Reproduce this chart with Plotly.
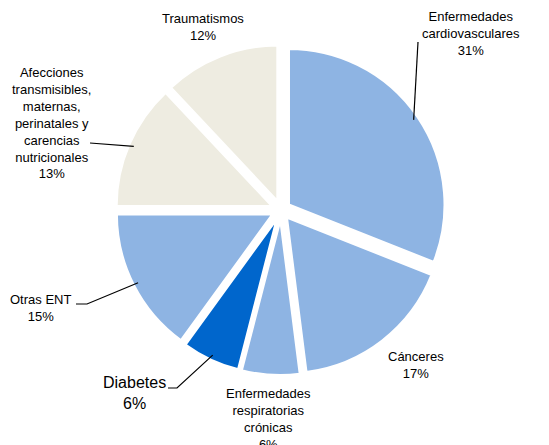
import math
import plotly.graph_objects as go

# ---- data ----
categories = [
    "Enfermedades cardiovasculares",
    "Cánceres",
    "Enfermedades respiratorias crónicas",
    "Diabetes",
    "Otras ENT",
    "Afecciones transmisibles, maternas, perinatales y carencias nutricionales",
    "Traumatismos",
]
values = [31, 17, 6, 6, 15, 13, 12]
label_lines = [
    ["Enfermedades", "cardiovasculares"],
    ["Cánceres"],
    ["Enfermedades", "respiratorias", "crónicas"],
    ["Diabetes"],
    ["Otras ENT"],
    ["Afecciones", "transmisibles,", "maternas,", "perinatales y", "carencias", "nutricionales"],
    ["Traumatismos"],
]

# ---- style / layout ----
W, H = 549, 445
colors = ["#8EB4E3", "#8EB4E3", "#8EB4E3", "#0066CC", "#8EB4E3", "#EEECE1", "#EEECE1"]
PIE_CX, PIE_CY, PIE_R, PULL = 281, 210, 156, 0.06
# label block centres in pixels
label_pos = [(471, 33), (416, 365), (268, 419), (134, 393), (40, 308), (51, 123), (203, 27)]
label_size = [13, 13, 13, 16, 13, 13, 13]
# leader start points (pixels) near the label text, None if no leader
leader_start = [[(418, 42)], None, None, [(168, 388), (177, 388)], [(76, 304), (87, 304)], [(90, 143)], None]

half = PIE_R * (1 + PULL)
dom_x = [(PIE_CX - half) / W, (PIE_CX + half) / W]
dom_y = [1 - (PIE_CY + half) / H, 1 - (PIE_CY - half) / H]

total = sum(values)
fig = go.Figure(go.Pie(
    labels=categories,
    values=values,
    sort=False,
    direction="clockwise",
    rotation=0,
    pull=[PULL] * len(values),
    marker=dict(colors=colors, line=dict(color="white", width=2.5)),
    textinfo="none",
    hoverinfo="label+percent",
    domain=dict(x=dom_x, y=dom_y),
    showlegend=False,
))

def px2paper(x, y):
    return x / W, 1 - y / H

annotations = []
shapes = []
cum = 0
for i, v in enumerate(values):
    mid = (cum + v / 2) / total * 2 * math.pi
    cum += v
    pct = f"{round(v / total * 100)}%"
    text = "<br>".join(label_lines[i] + [pct])
    lx, ly = px2paper(*label_pos[i])
    annotations.append(dict(
        x=lx, y=ly, xref="paper", yref="paper", text=text, showarrow=False,
        xanchor="center", yanchor="middle", align="center",
        font=dict(family="Liberation Sans, Arial, sans-serif", size=label_size[i], color="#000000"),
    ))
    if leader_start[i]:
        r_end = PIE_R * (1 + PULL) * 0.97
        ex = PIE_CX + r_end * math.sin(mid)
        ey = PIE_CY - r_end * math.cos(mid)
        pts = [px2paper(*p) for p in leader_start[i]] + [px2paper(ex, ey)]
        path = "M " + " L ".join(f"{a:.5f},{b:.5f}" for a, b in pts)
        shapes.append(dict(type="path", path=path, xref="paper", yref="paper",
                           line=dict(color="#000000", width=1.2)))

fig.update_layout(
    width=W, height=H,
    margin=dict(l=0, r=0, t=0, b=0),
    paper_bgcolor="white", plot_bgcolor="white",
    annotations=annotations, shapes=shapes,
)
fig.write_html("out.html", config={"displayModeBar": False},
               post_script="document.body.style.margin='0';")
